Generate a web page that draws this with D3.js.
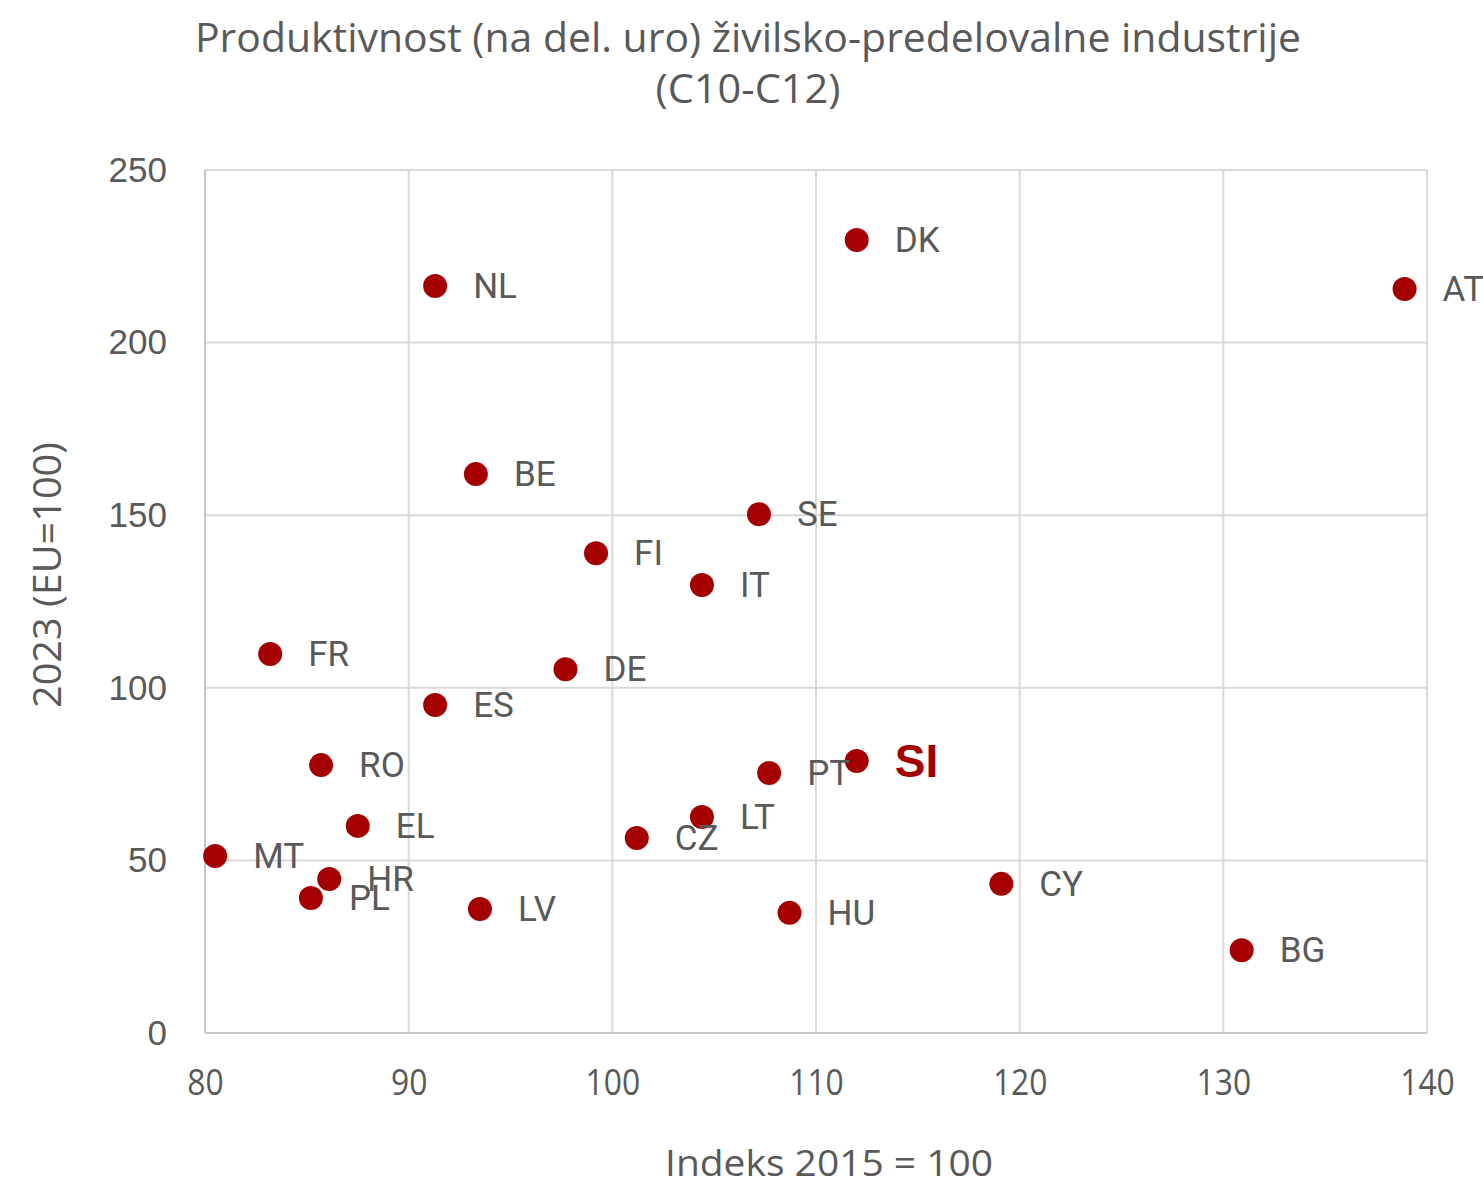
<!DOCTYPE html>
<html>
<head>
<meta charset="utf-8">
<script src="https://cdn.jsdelivr.net/npm/d3@7"></script>
<style>
  body { margin: 0; background: #fff; }
  svg text { fill: #595959; }
</style>
</head>
<body>
<svg id="chart"></svg>
<script>
// countries, index 2015=100 and productivity 2023 (EU=100)
var countries = ["NL","DK","AT","BE","SE","FI","IT","FR","DE","ES","RO","SI","PT","EL","LT","CZ","MT","HR","PL","CY","LV","HU","BG"];
var index2015 = [91.3,112.0,138.9,93.3,107.2,99.2,104.4,83.2,97.7,91.3,85.7,112.0,107.7,87.5,104.4,101.2,80.5,86.1,85.2,119.1,93.5,108.7,130.9];
var prod2023 = [216.4,229.7,215.5,161.9,150.3,139.0,129.8,109.8,105.4,95.0,77.6,78.8,75.3,60.0,62.6,56.5,51.3,44.6,39.1,43.2,35.9,34.8,24.0];
var xTicks = [80,90,100,110,120,130,140];
var yTicks = [0,50,100,150,200,250];

var W = 1483, H = 1187;
var margin = {top: 170, right: 56, bottom: 154, left: 205};
var width = W - margin.left - margin.right,
    height = H - margin.top - margin.bottom;

var svg = d3.select("#chart").attr("width", W).attr("height", H);

var x = d3.scaleLinear().domain([80, 140]).range([0, width]);
var y = d3.scaleLinear().domain([0, 250]).range([height, 0]);

var g = svg.append("g").attr("transform", "translate(" + margin.left + "," + margin.top + ")");

// grid
g.selectAll(".vgrid").data(xTicks).enter().append("line")
    .attr("x1", function(d) { return x(d); }).attr("x2", function(d) { return x(d); })
    .attr("y1", 0).attr("y2", height)
    .attr("stroke", "#d9d9d9").attr("stroke-width", 2);
g.selectAll(".hgrid").data(yTicks).enter().append("line")
    .attr("x1", 0).attr("x2", width)
    .attr("y1", function(d) { return y(d); }).attr("y2", function(d) { return y(d); })
    .attr("stroke", "#d9d9d9").attr("stroke-width", 2);
// axis lines slightly darker
g.append("line").attr("x1", 0).attr("x2", 0).attr("y1", 0).attr("y2", height)
    .attr("stroke", "#c8c8c8").attr("stroke-width", 2);
g.append("line").attr("x1", 0).attr("x2", width).attr("y1", height).attr("y2", height)
    .attr("stroke", "#c8c8c8").attr("stroke-width", 2);

// axes (labels only)
var xAxis = g.append("g").attr("transform", "translate(0," + height + ")")
    .call(d3.axisBottom(x).tickValues(xTicks).tickSize(0).tickPadding(36));
var yAxis = g.append("g")
    .call(d3.axisLeft(y).tickValues(yTicks).tickSize(0).tickPadding(38));
xAxis.select(".domain").remove();
yAxis.select(".domain").remove();
yAxis.selectAll("text")
    .style("font-family", "'Liberation Sans', Arial, sans-serif").style("font-size", "35px").style("fill", "#595959");
xAxis.selectAll("text")
    .style("font-family", "'Open Sans', sans-serif").style("font-size", "37px").style("fill", "#595959")
    .attr("transform", "scale(0.86,1)");

var data = countries.map(function(c, i) { return {name: c, x: index2015[i], y: prod2023[i]}; });

// points
g.selectAll("circle.pt").data(data).enter().append("circle")
    .attr("class", "pt")
    .attr("cx", function(d) { return x(d.x); })
    .attr("cy", function(d) { return y(d.y); })
    .attr("r", 12)
    .attr("fill", "#a50000");

// labels
g.selectAll("text.lbl").data(data).enter().append("text")
    .attr("class", "lbl")
    .attr("x", function(d) { return x(d.x) + 38; })
    .attr("y", function(d) { return y(d.y) + (d.name === "SI" ? 16 : 12); })
    .style("font-family", function(d) { return d.name === "SI" ? "'Liberation Sans', Arial, sans-serif" : "Roboto, sans-serif"; })
    .style("font-size", function(d) { return d.name === "SI" ? "46px" : "35px"; })
    .style("font-weight", function(d) { return d.name === "SI" ? "bold" : "normal"; })
    .style("fill", function(d) { return d.name === "SI" ? "#a50000" : "#595959"; })
    .text(function(d) { return d.name; });

// title
svg.append("text").attr("x", 748).attr("y", 52).attr("text-anchor", "middle")
    .style("font-family", "'Open Sans', sans-serif").style("font-size", "40px")
    .attr("textLength", 1106).attr("lengthAdjust", "spacingAndGlyphs")
    .text("Produktivnost (na del. uro) živilsko-predelovalne industrije");
svg.append("text").attr("x", 748).attr("y", 103).attr("text-anchor", "middle")
    .style("font-family", "'Open Sans', sans-serif").style("font-size", "40px")
    .attr("textLength", 185).attr("lengthAdjust", "spacingAndGlyphs")
    .text("(C10-C12)");

// axis titles
svg.append("text").attr("x", 829).attr("y", 1176).attr("text-anchor", "middle")
    .style("font-family", "'Open Sans', sans-serif").style("font-size", "36px")
    .attr("textLength", 328).attr("lengthAdjust", "spacingAndGlyphs")
    .text("Indeks 2015 = 100");
svg.append("text").attr("transform", "translate(61,575) rotate(-90)").attr("text-anchor", "middle")
    .style("font-family", "'Open Sans', sans-serif").style("font-size", "38px")
    .attr("textLength", 266).attr("lengthAdjust", "spacingAndGlyphs")
    .text("2023 (EU=100)");
</script>
</body>
</html>
